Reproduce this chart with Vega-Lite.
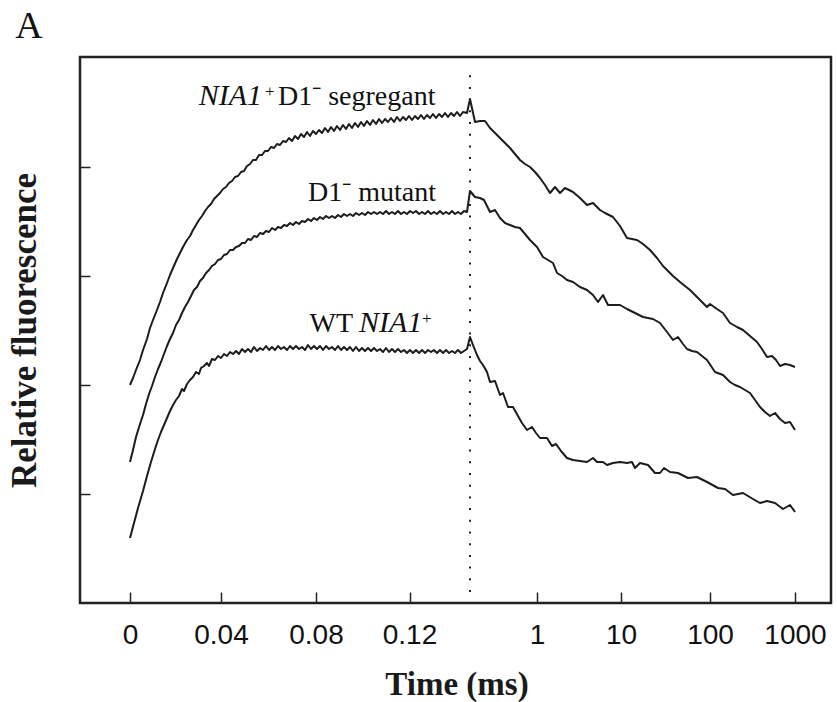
{
  "$schema": "https://vega.github.io/schema/vega-lite/v6.json",
  "width": 751,
  "height": 546,
  "autosize": {"type": "none"},
  "padding": {"left": 80, "top": 57, "right": 6, "bottom": 99},
  "background": "white",
  "config": {"view": {"stroke": "#222", "strokeWidth": 2.5}},
  "datasets": {
    "curves": [
      {"s":"seg","T":50,"F":218},{"s":"seg","T":53,"F":225},{"s":"seg","T":56,"F":233},{"s":"seg","T":60,"F":243},{"s":"seg","T":63,"F":253},{"s":"seg","T":67,"F":264},{"s":"seg","T":70,"F":275},{"s":"seg","T":73,"F":283},{"s":"seg","T":77,"F":293},{"s":"seg","T":80,"F":301},{"s":"seg","T":83,"F":310},{"s":"seg","T":87,"F":320},{"s":"seg","T":90,"F":328},{"s":"seg","T":93,"F":335},{"s":"seg","T":97,"F":344},{"s":"seg","T":100,"F":350},{"s":"seg","T":103,"F":356},{"s":"seg","T":107,"F":363},{"s":"seg","T":110,"F":367},{"s":"seg","T":113,"F":373},{"s":"seg","T":116,"F":378},{"s":"seg","T":119,"F":383},{"s":"seg","T":122,"F":387},{"s":"seg","T":125,"F":392},{"s":"seg","T":128,"F":396},{"s":"seg","T":131,"F":399},{"s":"seg","T":134,"F":404},{"s":"seg","T":137,"F":407},{"s":"seg","T":140,"F":410},{"s":"seg","T":143,"F":414},{"s":"seg","T":146,"F":416},{"s":"seg","T":149,"F":420},{"s":"seg","T":152,"F":422},{"s":"seg","T":155,"F":426},{"s":"seg","T":158,"F":427},{"s":"seg","T":161,"F":431},{"s":"seg","T":164,"F":432},{"s":"seg","T":167,"F":437},{"s":"seg","T":170,"F":439},{"s":"seg","T":173,"F":443},{"s":"seg","T":176,"F":443},{"s":"seg","T":179,"F":448},{"s":"seg","T":182,"F":448},{"s":"seg","T":185,"F":452},{"s":"seg","T":188,"F":452},{"s":"seg","T":191,"F":456},{"s":"seg","T":194,"F":455},{"s":"seg","T":197,"F":459},{"s":"seg","T":200,"F":458},{"s":"seg","T":203,"F":462},{"s":"seg","T":206,"F":461},{"s":"seg","T":209,"F":465},{"s":"seg","T":212,"F":462},{"s":"seg","T":215,"F":467},{"s":"seg","T":218,"F":464},{"s":"seg","T":221,"F":469},{"s":"seg","T":224,"F":466},{"s":"seg","T":227,"F":471},{"s":"seg","T":230,"F":467},{"s":"seg","T":233,"F":472},{"s":"seg","T":236,"F":469},{"s":"seg","T":239,"F":473},{"s":"seg","T":242,"F":470},{"s":"seg","T":245,"F":475},{"s":"seg","T":248,"F":471},{"s":"seg","T":251,"F":476},{"s":"seg","T":254,"F":472},{"s":"seg","T":257,"F":477},{"s":"seg","T":260,"F":473},{"s":"seg","T":263,"F":478},{"s":"seg","T":266,"F":474},{"s":"seg","T":269,"F":479},{"s":"seg","T":272,"F":475},{"s":"seg","T":275,"F":480},{"s":"seg","T":278,"F":476},{"s":"seg","T":281,"F":481},{"s":"seg","T":284,"F":477},{"s":"seg","T":287,"F":482},{"s":"seg","T":290,"F":478},{"s":"seg","T":293,"F":483},{"s":"seg","T":296,"F":479},{"s":"seg","T":299,"F":484},{"s":"seg","T":302,"F":480},{"s":"seg","T":305,"F":484},{"s":"seg","T":308,"F":481},{"s":"seg","T":311,"F":485},{"s":"seg","T":314,"F":481},{"s":"seg","T":317,"F":486},{"s":"seg","T":320,"F":482},{"s":"seg","T":323,"F":486},{"s":"seg","T":326,"F":483},{"s":"seg","T":329,"F":487},{"s":"seg","T":332,"F":483},{"s":"seg","T":335,"F":487},{"s":"seg","T":338,"F":484},{"s":"seg","T":341,"F":488},{"s":"seg","T":344,"F":484},{"s":"seg","T":347,"F":488},{"s":"seg","T":350,"F":485},{"s":"seg","T":353,"F":489},{"s":"seg","T":356,"F":485},{"s":"seg","T":359,"F":489},{"s":"seg","T":362,"F":486},{"s":"seg","T":365,"F":490},{"s":"seg","T":368,"F":486},{"s":"seg","T":371,"F":490},{"s":"seg","T":374,"F":487},{"s":"seg","T":377,"F":491},{"s":"seg","T":380,"F":487},{"s":"seg","T":383,"F":491},{"s":"seg","T":387,"F":490},{"s":"seg","T":390,"F":504},{"s":"seg","T":395,"F":481},{"s":"seg","T":400,"F":482},{"s":"seg","T":405,"F":482},{"s":"seg","T":410,"F":475},{"s":"seg","T":415,"F":470},{"s":"seg","T":420,"F":465},{"s":"seg","T":425,"F":460},{"s":"seg","T":430,"F":455},{"s":"seg","T":435,"F":449},{"s":"seg","T":440,"F":443},{"s":"seg","T":445,"F":439},{"s":"seg","T":450,"F":436},{"s":"seg","T":455,"F":431},{"s":"seg","T":460,"F":425},{"s":"seg","T":465,"F":418},{"s":"seg","T":470,"F":410},{"s":"seg","T":475,"F":416},{"s":"seg","T":480,"F":410},{"s":"seg","T":485,"F":415},{"s":"seg","T":493,"F":411},{"s":"seg","T":500,"F":405},{"s":"seg","T":507,"F":398},{"s":"seg","T":513,"F":400},{"s":"seg","T":520,"F":393},{"s":"seg","T":525,"F":390},{"s":"seg","T":533,"F":386},{"s":"seg","T":540,"F":377},{"s":"seg","T":547,"F":365},{"s":"seg","T":557,"F":363},{"s":"seg","T":563,"F":359},{"s":"seg","T":570,"F":353},{"s":"seg","T":577,"F":345},{"s":"seg","T":583,"F":337},{"s":"seg","T":587,"F":333},{"s":"seg","T":593,"F":327},{"s":"seg","T":600,"F":321},{"s":"seg","T":605,"F":317},{"s":"seg","T":610,"F":313},{"s":"seg","T":613,"F":310},{"s":"seg","T":620,"F":303},{"s":"seg","T":627,"F":296},{"s":"seg","T":630,"F":299},{"s":"seg","T":637,"F":294},{"s":"seg","T":643,"F":290},{"s":"seg","T":650,"F":280},{"s":"seg","T":657,"F":276},{"s":"seg","T":663,"F":273},{"s":"seg","T":670,"F":267},{"s":"seg","T":677,"F":261},{"s":"seg","T":682,"F":254},{"s":"seg","T":687,"F":246},{"s":"seg","T":692,"F":247},{"s":"seg","T":696,"F":243},{"s":"seg","T":700,"F":237},{"s":"seg","T":705,"F":239},{"s":"seg","T":710,"F":238},{"s":"seg","T":715,"F":236},

      {"s":"mut","T":50,"F":141},{"s":"mut","T":53,"F":153},{"s":"mut","T":56,"F":166},{"s":"mut","T":60,"F":179},{"s":"mut","T":63,"F":188},{"s":"mut","T":66,"F":199},{"s":"mut","T":69,"F":209},{"s":"mut","T":72,"F":217},{"s":"mut","T":75,"F":226},{"s":"mut","T":78,"F":234},{"s":"mut","T":81,"F":241},{"s":"mut","T":84,"F":249},{"s":"mut","T":87,"F":257},{"s":"mut","T":90,"F":264},{"s":"mut","T":93,"F":270},{"s":"mut","T":96,"F":278},{"s":"mut","T":99,"F":283},{"s":"mut","T":102,"F":290},{"s":"mut","T":105,"F":296},{"s":"mut","T":108,"F":301},{"s":"mut","T":111,"F":307},{"s":"mut","T":114,"F":313},{"s":"mut","T":117,"F":316},{"s":"mut","T":120,"F":322},{"s":"mut","T":123,"F":325},{"s":"mut","T":126,"F":330},{"s":"mut","T":129,"F":333},{"s":"mut","T":132,"F":337},{"s":"mut","T":135,"F":339},{"s":"mut","T":138,"F":343},{"s":"mut","T":141,"F":344},{"s":"mut","T":144,"F":348},{"s":"mut","T":147,"F":349},{"s":"mut","T":150,"F":353},{"s":"mut","T":153,"F":353},{"s":"mut","T":156,"F":356},{"s":"mut","T":159,"F":357},{"s":"mut","T":162,"F":360},{"s":"mut","T":165,"F":360},{"s":"mut","T":168,"F":364},{"s":"mut","T":171,"F":363},{"s":"mut","T":174,"F":367},{"s":"mut","T":177,"F":366},{"s":"mut","T":180,"F":370},{"s":"mut","T":183,"F":369},{"s":"mut","T":186,"F":372},{"s":"mut","T":189,"F":371},{"s":"mut","T":192,"F":375},{"s":"mut","T":195,"F":373},{"s":"mut","T":198,"F":376},{"s":"mut","T":201,"F":375},{"s":"mut","T":204,"F":378},{"s":"mut","T":207,"F":377},{"s":"mut","T":210,"F":380},{"s":"mut","T":213,"F":378},{"s":"mut","T":216,"F":381},{"s":"mut","T":219,"F":379},{"s":"mut","T":222,"F":382},{"s":"mut","T":225,"F":381},{"s":"mut","T":228,"F":384},{"s":"mut","T":231,"F":382},{"s":"mut","T":234,"F":385},{"s":"mut","T":237,"F":383},{"s":"mut","T":240,"F":386},{"s":"mut","T":243,"F":384},{"s":"mut","T":246,"F":387},{"s":"mut","T":249,"F":385},{"s":"mut","T":252,"F":387},{"s":"mut","T":255,"F":385},{"s":"mut","T":258,"F":388},{"s":"mut","T":261,"F":386},{"s":"mut","T":264,"F":389},{"s":"mut","T":267,"F":387},{"s":"mut","T":270,"F":389},{"s":"mut","T":273,"F":387},{"s":"mut","T":276,"F":390},{"s":"mut","T":279,"F":388},{"s":"mut","T":282,"F":390},{"s":"mut","T":285,"F":388},{"s":"mut","T":288,"F":391},{"s":"mut","T":291,"F":389},{"s":"mut","T":294,"F":391},{"s":"mut","T":297,"F":389},{"s":"mut","T":300,"F":391},{"s":"mut","T":303,"F":389},{"s":"mut","T":306,"F":392},{"s":"mut","T":309,"F":389},{"s":"mut","T":312,"F":391},{"s":"mut","T":315,"F":389},{"s":"mut","T":318,"F":392},{"s":"mut","T":321,"F":389},{"s":"mut","T":324,"F":391},{"s":"mut","T":327,"F":389},{"s":"mut","T":330,"F":392},{"s":"mut","T":333,"F":390},{"s":"mut","T":336,"F":392},{"s":"mut","T":339,"F":389},{"s":"mut","T":342,"F":391},{"s":"mut","T":345,"F":389},{"s":"mut","T":348,"F":392},{"s":"mut","T":351,"F":389},{"s":"mut","T":354,"F":391},{"s":"mut","T":357,"F":389},{"s":"mut","T":360,"F":392},{"s":"mut","T":363,"F":389},{"s":"mut","T":366,"F":391},{"s":"mut","T":369,"F":389},{"s":"mut","T":372,"F":392},{"s":"mut","T":375,"F":389},{"s":"mut","T":378,"F":391},{"s":"mut","T":381,"F":389},{"s":"mut","T":384,"F":392},{"s":"mut","T":387,"F":391},{"s":"mut","T":390,"F":412},{"s":"mut","T":395,"F":406},{"s":"mut","T":400,"F":405},{"s":"mut","T":404,"F":403},{"s":"mut","T":407,"F":397},{"s":"mut","T":410,"F":391},{"s":"mut","T":415,"F":393},{"s":"mut","T":420,"F":385},{"s":"mut","T":425,"F":380},{"s":"mut","T":430,"F":378},{"s":"mut","T":435,"F":376},{"s":"mut","T":440,"F":375},{"s":"mut","T":445,"F":369},{"s":"mut","T":450,"F":363},{"s":"mut","T":457,"F":356},{"s":"mut","T":463,"F":346},{"s":"mut","T":468,"F":343},{"s":"mut","T":473,"F":340},{"s":"mut","T":477,"F":330},{"s":"mut","T":482,"F":327},{"s":"mut","T":487,"F":323},{"s":"mut","T":493,"F":321},{"s":"mut","T":500,"F":316},{"s":"mut","T":507,"F":313},{"s":"mut","T":513,"F":308},{"s":"mut","T":518,"F":301},{"s":"mut","T":523,"F":308},{"s":"mut","T":528,"F":298},{"s":"mut","T":534,"F":298},{"s":"mut","T":540,"F":298},{"s":"mut","T":547,"F":294},{"s":"mut","T":553,"F":291},{"s":"mut","T":563,"F":286},{"s":"mut","T":573,"F":284},{"s":"mut","T":580,"F":280},{"s":"mut","T":587,"F":271},{"s":"mut","T":593,"F":263},{"s":"mut","T":598,"F":266},{"s":"mut","T":603,"F":259},{"s":"mut","T":607,"F":254},{"s":"mut","T":612,"F":252},{"s":"mut","T":617,"F":251},{"s":"mut","T":622,"F":247},{"s":"mut","T":627,"F":243},{"s":"mut","T":635,"F":231},{"s":"mut","T":643,"F":228},{"s":"mut","T":650,"F":221},{"s":"mut","T":655,"F":218},{"s":"mut","T":660,"F":216},{"s":"mut","T":665,"F":213},{"s":"mut","T":670,"F":210},{"s":"mut","T":675,"F":203},{"s":"mut","T":680,"F":196},{"s":"mut","T":685,"F":191},{"s":"mut","T":690,"F":187},{"s":"mut","T":695,"F":190},{"s":"mut","T":700,"F":184},{"s":"mut","T":705,"F":180},{"s":"mut","T":710,"F":181},{"s":"mut","T":715,"F":173},

      {"s":"wt","T":50,"F":65},{"s":"wt","T":54,"F":80},{"s":"wt","T":58,"F":95},{"s":"wt","T":63,"F":112},{"s":"wt","T":67,"F":127},{"s":"wt","T":71,"F":141},{"s":"wt","T":75,"F":154},{"s":"wt","T":78,"F":163},{"s":"wt","T":81,"F":171},{"s":"wt","T":84,"F":178},{"s":"wt","T":87,"F":185},{"s":"wt","T":90,"F":192},{"s":"wt","T":93,"F":198},{"s":"wt","T":96,"F":203},{"s":"wt","T":99,"F":207},{"s":"wt","T":102,"F":214},{"s":"wt","T":104,"F":212},{"s":"wt","T":107,"F":219},{"s":"wt","T":110,"F":223},{"s":"wt","T":113,"F":226},{"s":"wt","T":116,"F":231},{"s":"wt","T":119,"F":229},{"s":"wt","T":121,"F":235},{"s":"wt","T":124,"F":237},{"s":"wt","T":127,"F":240},{"s":"wt","T":129,"F":237},{"s":"wt","T":132,"F":244},{"s":"wt","T":135,"F":243},{"s":"wt","T":138,"F":247},{"s":"wt","T":141,"F":245},{"s":"wt","T":144,"F":249},{"s":"wt","T":147,"F":247},{"s":"wt","T":150,"F":251},{"s":"wt","T":153,"F":249},{"s":"wt","T":156,"F":252},{"s":"wt","T":159,"F":249},{"s":"wt","T":162,"F":254},{"s":"wt","T":165,"F":251},{"s":"wt","T":168,"F":254},{"s":"wt","T":171,"F":251},{"s":"wt","T":174,"F":256},{"s":"wt","T":177,"F":252},{"s":"wt","T":180,"F":255},{"s":"wt","T":183,"F":253},{"s":"wt","T":186,"F":257},{"s":"wt","T":189,"F":253},{"s":"wt","T":192,"F":256},{"s":"wt","T":195,"F":253},{"s":"wt","T":198,"F":257},{"s":"wt","T":201,"F":254},{"s":"wt","T":204,"F":256},{"s":"wt","T":207,"F":253},{"s":"wt","T":210,"F":257},{"s":"wt","T":213,"F":254},{"s":"wt","T":216,"F":257},{"s":"wt","T":219,"F":254},{"s":"wt","T":222,"F":256},{"s":"wt","T":225,"F":253},{"s":"wt","T":228,"F":258},{"s":"wt","T":231,"F":254},{"s":"wt","T":234,"F":257},{"s":"wt","T":237,"F":254},{"s":"wt","T":240,"F":257},{"s":"wt","T":243,"F":253},{"s":"wt","T":246,"F":257},{"s":"wt","T":249,"F":254},{"s":"wt","T":252,"F":256},{"s":"wt","T":255,"F":253},{"s":"wt","T":258,"F":257},{"s":"wt","T":261,"F":253},{"s":"wt","T":264,"F":256},{"s":"wt","T":267,"F":253},{"s":"wt","T":270,"F":256},{"s":"wt","T":273,"F":252},{"s":"wt","T":276,"F":256},{"s":"wt","T":279,"F":252},{"s":"wt","T":282,"F":255},{"s":"wt","T":285,"F":252},{"s":"wt","T":288,"F":255},{"s":"wt","T":291,"F":252},{"s":"wt","T":294,"F":255},{"s":"wt","T":297,"F":252},{"s":"wt","T":300,"F":254},{"s":"wt","T":303,"F":251},{"s":"wt","T":306,"F":255},{"s":"wt","T":309,"F":251},{"s":"wt","T":312,"F":254},{"s":"wt","T":315,"F":251},{"s":"wt","T":318,"F":254},{"s":"wt","T":321,"F":251},{"s":"wt","T":324,"F":253},{"s":"wt","T":327,"F":250},{"s":"wt","T":330,"F":253},{"s":"wt","T":333,"F":250},{"s":"wt","T":336,"F":253},{"s":"wt","T":339,"F":250},{"s":"wt","T":342,"F":253},{"s":"wt","T":345,"F":250},{"s":"wt","T":348,"F":253},{"s":"wt","T":351,"F":251},{"s":"wt","T":354,"F":253},{"s":"wt","T":357,"F":250},{"s":"wt","T":360,"F":253},{"s":"wt","T":363,"F":250},{"s":"wt","T":366,"F":253},{"s":"wt","T":369,"F":250},{"s":"wt","T":372,"F":252},{"s":"wt","T":375,"F":250},{"s":"wt","T":378,"F":253},{"s":"wt","T":381,"F":250},{"s":"wt","T":384,"F":252},{"s":"wt","T":387,"F":254},{"s":"wt","T":390,"F":266},{"s":"wt","T":393,"F":258},{"s":"wt","T":397,"F":248},{"s":"wt","T":400,"F":242},{"s":"wt","T":403,"F":238},{"s":"wt","T":407,"F":231},{"s":"wt","T":410,"F":221},{"s":"wt","T":415,"F":222},{"s":"wt","T":420,"F":208},{"s":"wt","T":423,"F":210},{"s":"wt","T":428,"F":196},{"s":"wt","T":433,"F":196},{"s":"wt","T":438,"F":187},{"s":"wt","T":442,"F":180},{"s":"wt","T":447,"F":173},{"s":"wt","T":452,"F":176},{"s":"wt","T":456,"F":170},{"s":"wt","T":460,"F":165},{"s":"wt","T":467,"F":165},{"s":"wt","T":472,"F":157},{"s":"wt","T":476,"F":159},{"s":"wt","T":481,"F":152},{"s":"wt","T":487,"F":145},{"s":"wt","T":493,"F":143},{"s":"wt","T":500,"F":142},{"s":"wt","T":507,"F":141},{"s":"wt","T":513,"F":145},{"s":"wt","T":517,"F":141},{"s":"wt","T":523,"F":141},{"s":"wt","T":527,"F":138},{"s":"wt","T":533,"F":140},{"s":"wt","T":540,"F":141},{"s":"wt","T":547,"F":140},{"s":"wt","T":552,"F":141},{"s":"wt","T":555,"F":135},{"s":"wt","T":560,"F":140},{"s":"wt","T":568,"F":138},{"s":"wt","T":575,"F":130},{"s":"wt","T":580,"F":130},{"s":"wt","T":584,"F":135},{"s":"wt","T":590,"F":131},{"s":"wt","T":598,"F":130},{"s":"wt","T":608,"F":125},{"s":"wt","T":617,"F":126},{"s":"wt","T":627,"F":121},{"s":"wt","T":638,"F":115},{"s":"wt","T":645,"F":114},{"s":"wt","T":653,"F":108},{"s":"wt","T":663,"F":110},{"s":"wt","T":673,"F":104},{"s":"wt","T":680,"F":100},{"s":"wt","T":687,"F":102},{"s":"wt","T":695,"F":100},{"s":"wt","T":703,"F":94},{"s":"wt","T":710,"F":98},{"s":"wt","T":715,"F":91}
    ],
    "marker": [{"T": 390, "F": 11, "F2": 535}],
    "labels": [
      {"T": 182, "F": 498, "txt": "NIA1", "k": "ir"},
      {"T": 185, "F": 498, "txt": "+", "k": "sup"},
      {"T": 198, "F": 498, "txt": "D1\u207b segregant", "k": "rl"},
      {"T": 228, "F": 402, "txt": "D1\u207b mutant", "k": "rl"},
      {"T": 273, "F": 271, "txt": "WT", "k": "rr"},
      {"T": 279, "F": 271, "txt": "NIA1", "k": "il"},
      {"T": 342, "F": 271, "txt": "+", "k": "sup"},
      {"T": -51, "F": 565, "txt": "A", "k": "big"}
    ]
  },
  "encoding": {
    "x": {
      "field": "T", "type": "quantitative",
      "scale": {"domain": [0, 751], "nice": false, "zero": false},
      "axis": {
        "values": [50, 141, 236, 329.5, 457, 541, 630, 715],
        "labelExpr": "['0','0.04','0.08','0.12','1','10','100','1000'][indexof([50,141,236,329.5,457,541,630,715], datum.value)]",
        "domain": false, "grid": false,
        "tickSize": -11, "tickWidth": 1.5, "tickColor": "#222",
        "labelFont": "Liberation Sans", "labelFontSize": 28, "labelColor": "#111",
        "labelBaseline": "alphabetic", "labelPadding": 51, "labelOverlap": false, "labelFlush": false,
        "title": "Time (ms)", "titleFont": "Liberation Serif", "titleFontSize": 33, "titleFontWeight": "bold", "titleColor": "#1a1a1a",
        "titleX": 376.5, "titleY": 91, "titleBaseline": "alphabetic", "titleAlign": "center"
      }
    },
    "y": {
      "field": "F", "type": "quantitative",
      "scale": {"domain": [0, 546], "nice": false, "zero": false},
      "axis": {
        "values": [109, 218, 327, 436],
        "labels": false, "domain": false, "grid": false,
        "tickSize": -10, "tickWidth": 1.5, "tickColor": "#222",
        "title": "Relative fluorescence", "titleFont": "Liberation Serif", "titleFontSize": 35, "titleFontWeight": "bold", "titleColor": "#1a1a1a",
        "titleX": -45, "titleY": 273, "titleAngle": -90, "titleBaseline": "alphabetic", "titleAlign": "center"
      }
    }
  },
  "layer": [
    {
      "data": {"name": "curves"},
      "mark": {"type": "line", "color": "#1c1c1c", "strokeWidth": 2, "strokeJoin": "round"},
      "encoding": {"detail": {"field": "s"}}
    },
    {
      "data": {"name": "marker"},
      "mark": {"type": "rule", "color": "#222", "strokeWidth": 2, "strokeDash": [2, 9.7]},
      "encoding": {"y2": {"field": "F2"}}
    },
    {
      "data": {"name": "labels"},
      "transform": [{"filter": "datum.k == 'ir'"}],
      "mark": {"type": "text", "font": "Liberation Serif", "fontSize": 30, "fontStyle": "italic", "align": "right", "baseline": "alphabetic", "color": "#111"},
      "encoding": {"text": {"field": "txt"}}
    },
    {
      "data": {"name": "labels"},
      "transform": [{"filter": "datum.k == 'il'"}],
      "mark": {"type": "text", "font": "Liberation Serif", "fontSize": 30, "fontStyle": "italic", "align": "left", "baseline": "alphabetic", "color": "#111"},
      "encoding": {"text": {"field": "txt"}}
    },
    {
      "data": {"name": "labels"},
      "transform": [{"filter": "datum.k == 'rl'"}],
      "mark": {"type": "text", "font": "Liberation Serif", "fontSize": 28, "align": "left", "baseline": "alphabetic", "color": "#111"},
      "encoding": {"text": {"field": "txt"}}
    },
    {
      "data": {"name": "labels"},
      "transform": [{"filter": "datum.k == 'rr'"}],
      "mark": {"type": "text", "font": "Liberation Serif", "fontSize": 28, "align": "right", "baseline": "alphabetic", "color": "#111"},
      "encoding": {"text": {"field": "txt"}}
    },
    {
      "data": {"name": "labels"},
      "transform": [{"filter": "datum.k == 'sup'"}],
      "mark": {"type": "text", "font": "Liberation Serif", "fontSize": 17, "align": "left", "baseline": "alphabetic", "color": "#111", "dy": -8},
      "encoding": {"text": {"field": "txt"}}
    },
    {
      "data": {"name": "labels"},
      "transform": [{"filter": "datum.k == 'big'"}],
      "mark": {"type": "text", "font": "Liberation Serif", "fontSize": 38, "align": "center", "baseline": "alphabetic", "color": "#111"},
      "encoding": {"text": {"field": "txt"}}
    }
  ]
}
